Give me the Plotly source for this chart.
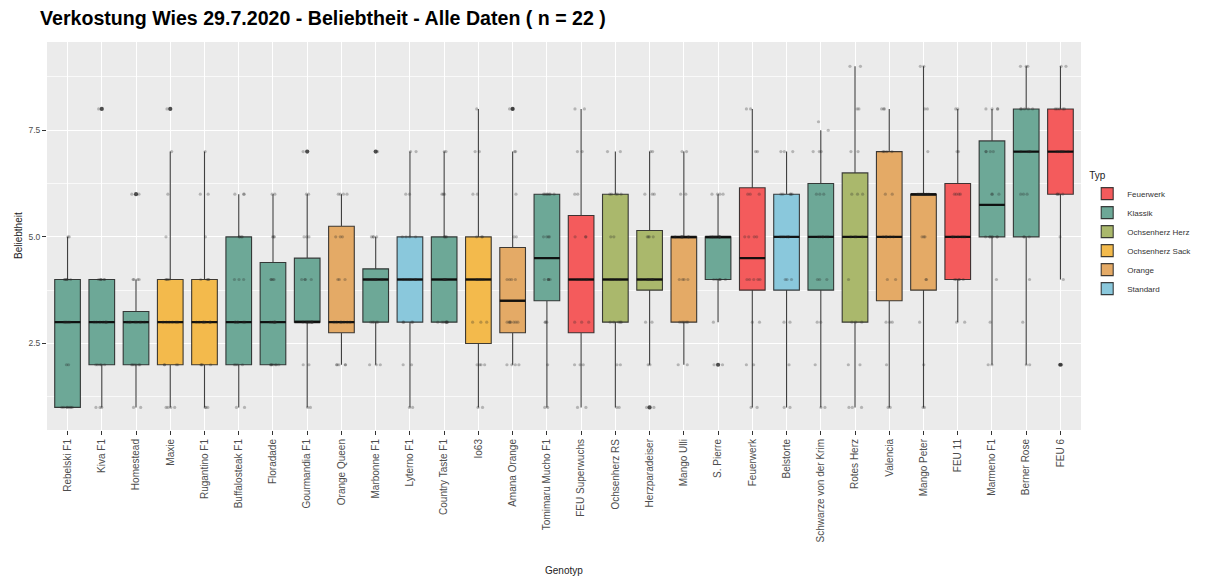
import plotly.graph_objects as go

# Genotypes in plotting order, their type, and box statistics
genotypes = [
    "Rebelski F1", "Kiva F1", "Homestead", "Maxie", "Rugantino F1",
    "Buffalosteak F1", "Floradade", "Gourmandia F1", "Orange Queen", "Marbonne F1",
    "Lyterno F1", "Country Taste F1", "Io63", "Amana Orange", "Tomimaru Mucho F1",
    "FEU Superwuchs", "Ochsenherz RS", "Herzparadeiser", "Mango Ulli", "S. Pierre",
    "Feuerwerk", "Belstorte", "Schwarze von der Krim", "Rotes Herz", "Valencia",
    "Mango Peter", "FEU 11", "Marmeno F1", "Berner Rose", "FEU 6",
]
typ = [
    "Klassik", "Klassik", "Klassik", "Ochsenherz Sack", "Ochsenherz Sack",
    "Klassik", "Klassik", "Klassik", "Orange", "Klassik",
    "Standard", "Klassik", "Ochsenherz Sack", "Orange", "Klassik",
    "Feuerwerk", "Ochsenherz Herz", "Ochsenherz Herz", "Orange", "Klassik",
    "Feuerwerk", "Standard", "Klassik", "Ochsenherz Herz", "Orange",
    "Orange", "Feuerwerk", "Klassik", "Klassik", "Feuerwerk",
]
lower = [1, 1, 1, 1, 1, 1, 2, 1, 2, 2, 1, 3, 1, 2, 1, 1, 1, 2, 2, 3, 1, 1, 1, 1, 1, 1, 3, 2, 2, 4]
q1 = [1, 2, 2, 2, 2, 2, 2, 3, 2.75, 3, 3, 3, 2.5, 2.75, 3.5, 2.75, 3, 3.75, 3, 4,
      3.75, 3.75, 3.75, 3, 3.5, 3.75, 4, 5, 5, 6]
median = [3, 3, 3, 3, 3, 3, 3, 3, 3, 4, 4, 4, 4, 3.5, 4.5, 4, 4, 4, 5, 5,
          4.5, 5, 5, 5, 5, 6, 5, 5.75, 7, 7]
q3 = [4, 4, 3.25, 4, 4, 5, 4.4, 4.5, 5.25, 4.25, 5, 5, 5, 4.75, 6, 5.5, 6, 5.15, 5, 5,
      6.15, 6, 6.25, 6.5, 7, 6, 6.25, 7.25, 8, 8]
upper = [5, 4, 4, 7, 7, 6, 6, 6, 6, 5, 7, 7, 8, 7, 6, 8, 7, 7, 7, 6, 8, 7, 7.5, 9, 8, 9, 8, 8, 9, 9]

# Outlying ratings marked by the boxplot
outlier_genotype = ["Kiva F1", "Homestead", "Maxie", "Gourmandia F1", "Marbonne F1",
                    "Amana Orange", "Herzparadeiser", "S. Pierre", "FEU 6"]
outlier_value = [8, 6, 8, 7, 7, 8, 1, 2, 2]

# Individual ratings per genotype (same order as genotypes)
ratings = [
    [1, 1, 1, 1, 1, 1, 1, 2, 2, 3, 3, 3, 3, 3, 4, 4, 4, 4, 4, 4, 5, 5],
    [1, 1, 1, 2, 2, 2, 2, 2, 3, 3, 3, 3, 3, 3, 3, 4, 4, 4, 4, 4, 4, 8],
    [1, 1, 2, 2, 2, 2, 2, 2, 3, 3, 3, 3, 3, 3, 3, 3, 4, 4, 4, 4, 6, 6],
    [1, 1, 1, 1, 2, 2, 2, 2, 3, 3, 3, 3, 3, 3, 4, 4, 4, 4, 5, 6, 7, 8],
    [1, 1, 1, 2, 2, 2, 2, 3, 3, 3, 3, 3, 3, 3, 4, 4, 4, 4, 5, 6, 6, 7],
    [1, 1, 2, 2, 2, 2, 3, 3, 3, 3, 3, 3, 4, 4, 4, 5, 5, 5, 5, 6, 6, 6],
    [2, 2, 2, 2, 2, 2, 2, 3, 3, 3, 3, 3, 3, 4, 4, 4, 4, 5, 5, 5, 6, 6],
    [1, 1, 2, 2, 3, 3, 3, 3, 3, 3, 3, 3, 4, 4, 4, 4, 5, 5, 5, 6, 6, 7],
    [2, 2, 2, 2, 2, 3, 3, 3, 3, 3, 3, 3, 4, 4, 4, 5, 5, 5, 6, 6, 6, 6],
    [2, 2, 2, 3, 3, 3, 3, 3, 4, 4, 4, 4, 4, 4, 4, 4, 4, 5, 5, 5, 5, 7],
    [1, 1, 2, 2, 3, 3, 3, 3, 4, 4, 4, 4, 4, 4, 5, 5, 5, 5, 6, 6, 7, 7],
    [3, 3, 3, 3, 3, 3, 3, 3, 4, 4, 4, 4, 4, 5, 5, 5, 5, 6, 6, 6, 7, 7],
    [1, 1, 2, 2, 2, 2, 3, 3, 3, 4, 4, 4, 4, 4, 5, 5, 5, 6, 6, 7, 7, 8],
    [2, 2, 2, 2, 3, 3, 3, 3, 3, 3, 3, 4, 4, 4, 4, 5, 5, 6, 7, 7, 8, 8],
    [1, 1, 2, 3, 3, 3, 4, 4, 4, 4, 4, 5, 5, 5, 5, 6, 6, 6, 6, 6, 6, 6],
    [1, 1, 2, 2, 2, 3, 3, 3, 4, 4, 4, 4, 4, 5, 5, 5, 6, 6, 7, 7, 8, 8],
    [1, 1, 2, 2, 3, 3, 3, 3, 3, 4, 4, 4, 4, 5, 5, 6, 6, 6, 6, 6, 7, 7],
    [1, 1, 2, 2, 3, 3, 4, 4, 4, 4, 4, 4, 4, 5, 5, 5, 5, 6, 6, 6, 7, 7],
    [2, 2, 3, 3, 3, 3, 3, 4, 4, 4, 4, 5, 5, 5, 5, 5, 5, 5, 6, 6, 7, 7],
    [2, 2, 3, 4, 4, 4, 4, 4, 4, 5, 5, 5, 5, 5, 5, 5, 5, 5, 6, 6, 6, 6],
    [1, 1, 2, 2, 3, 3, 4, 4, 4, 4, 4, 5, 5, 5, 5, 6, 6, 6, 7, 7, 8, 8],
    [1, 1, 2, 3, 3, 4, 4, 4, 5, 5, 5, 5, 5, 5, 6, 6, 6, 6, 6, 7, 7, 7],
    [1, 1, 2, 3, 3, 4, 4, 4, 5, 5, 5, 5, 5, 5, 6, 6, 6, 7, 7, 7, 7.5, 7.7],
    [1, 1, 1, 2, 2, 3, 3, 3, 4, 5, 5, 5, 5, 6, 6, 6, 7, 7, 8, 8, 9, 9],
    [1, 1, 2, 3, 3, 3, 4, 4, 5, 5, 5, 5, 5, 6, 6, 7, 7, 7, 7, 8, 8, 8],
    [1, 1, 2, 3, 4, 4, 5, 5, 5, 6, 6, 6, 6, 6, 6, 6, 6, 7, 8, 8, 9, 9],
    [3, 3, 4, 4, 4, 4, 4, 5, 5, 5, 5, 5, 5, 5, 6, 6, 6, 6, 7, 7, 8, 8],
    [2, 2, 3, 4, 5, 5, 5, 5, 5, 5, 5, 6, 6, 6, 7, 7, 7, 7, 8, 8, 8, 8],
    [2, 2, 3, 4, 5, 5, 5, 6, 6, 6, 7, 7, 7, 7, 8, 8, 8, 8, 8, 9, 9, 9],
    [2, 2, 4, 5, 6, 6, 6, 6, 7, 7, 7, 7, 7, 7, 7, 8, 8, 8, 8, 8, 9, 9],
]

type_order = ["Feuerwerk", "Klassik", "Ochsenherz Herz", "Ochsenherz Sack", "Orange", "Standard"]
type_colors = ["#F45B5C", "#6DA897", "#AAB86C", "#F3BA4C", "#E4AA66", "#8AC8DC"]

FONT = "Liberation Sans, Arial, Helvetica, sans-serif"
BOX_W = 0.75

fig = go.Figure()

# Filled boxes, one trace per type
for t, col in zip(type_order, type_colors):
    idx = [i for i, v in enumerate(typ) if v == t]
    fig.add_trace(go.Box(
        name=t,
        x=[genotypes[i] for i in idx],
        q1=[q1[i] for i in idx],
        median=[median[i] for i in idx],
        q3=[q3[i] for i in idx],
        lowerfence=[lower[i] for i in idx],
        upperfence=[upper[i] for i in idx],
        fillcolor=col,
        line=dict(color="rgba(30,30,30,0.85)", width=1.1),
        whiskerwidth=0,
        width=BOX_W,
        boxpoints=False,
        hoverinfo="skip",
    ))

# Thick median bars drawn as collapsed boxes
fig.add_trace(go.Box(
    x=genotypes, q1=median, median=median, q3=median,
    lowerfence=median, upperfence=median,
    fillcolor="rgba(0,0,0,0)",
    line=dict(color="rgba(10,10,10,0.9)", width=2.4),
    whiskerwidth=0, width=BOX_W, boxpoints=False,
    showlegend=False, hoverinfo="skip",
))

# Jittered individual ratings
pt_x, pt_y = [], []
for g, vals in zip(genotypes, ratings):
    pt_x += [g] * len(vals)
    pt_y += vals
fig.add_trace(go.Box(
    x=pt_x, y=pt_y,
    boxpoints="all", jitter=0.7, pointpos=0,
    marker=dict(color="rgba(40,40,40,0.28)", size=3.2),
    line=dict(color="rgba(0,0,0,0)", width=0),
    fillcolor="rgba(0,0,0,0)",
    width=BOX_W, whiskerwidth=0,
    showlegend=False, hoverinfo="skip",
))

# Outliers
fig.add_trace(go.Scatter(
    x=outlier_genotype, y=outlier_value, mode="markers",
    marker=dict(color="rgba(20,20,20,0.75)", size=4.2),
    showlegend=False, hoverinfo="skip",
))

fig.update_layout(
    width=1213, height=580,
    margin=dict(l=47, r=132, t=42, b=150),
    paper_bgcolor="white",
    plot_bgcolor="#EBEBEB",
    boxmode="overlay",
    font=dict(family=FONT, color="#4D4D4D", size=9),
    title=dict(
        text="<b>Verkostung Wies 29.7.2020 - Beliebtheit - Alle Daten ( n = 22 )</b>",
        font=dict(family=FONT, size=19.6, color="black"),
        xref="container", x=40 / 1213, xanchor="left",
        yref="container", y=1 - 18 / 580, yanchor="middle",
    ),
    legend=dict(
        x=1.006, xanchor="left", y=0.68, yanchor="top",
        title=dict(text="Typ", font=dict(size=10, color="#222")),
        font=dict(size=8, color="#333"),
        bgcolor="rgba(0,0,0,0)",
    ),
    xaxis=dict(
        type="category",
        categoryorder="array", categoryarray=genotypes,
        range=[-0.6, len(genotypes) - 0.4],
        tickangle=-90,
        tickfont=dict(size=10, color="#4D4D4D"),
        ticks="outside", ticklen=4, tickcolor="#333", tickwidth=1,
        showgrid=True, gridcolor="white", gridwidth=1.1,
        zeroline=False, showline=False,
    ),
    yaxis=dict(
        range=[0.47, 9.57],
        tickvals=[2.5, 5.0, 7.5], ticktext=["2.5", "5.0", "7.5"],
        tickfont=dict(size=8.5, color="#4D4D4D"),
        ticks="outside", ticklen=4, tickcolor="#333", tickwidth=1,
        showgrid=True, gridcolor="white", gridwidth=1.1,
        minor=dict(tickvals=[1.25, 3.75, 6.25, 8.75], showgrid=True,
                   gridcolor="rgba(255,255,255,0.7)", gridwidth=0.5, ticks=""),
        zeroline=False, showline=False,
    ),
    annotations=[
        dict(text="Genotyp", xref="paper", yref="paper",
             x=0.5, y=-(570 - 430) / 388, xanchor="center", yanchor="middle",
             showarrow=False, font=dict(size=10, color="#222")),
        dict(text="Beliebtheit", xref="paper", yref="paper",
             x=(18 - 47) / 1034, y=0.5, xanchor="center", yanchor="middle",
             textangle=-90, showarrow=False, font=dict(size=10, color="#222")),
    ],
)

fig.write_html("out.html")
